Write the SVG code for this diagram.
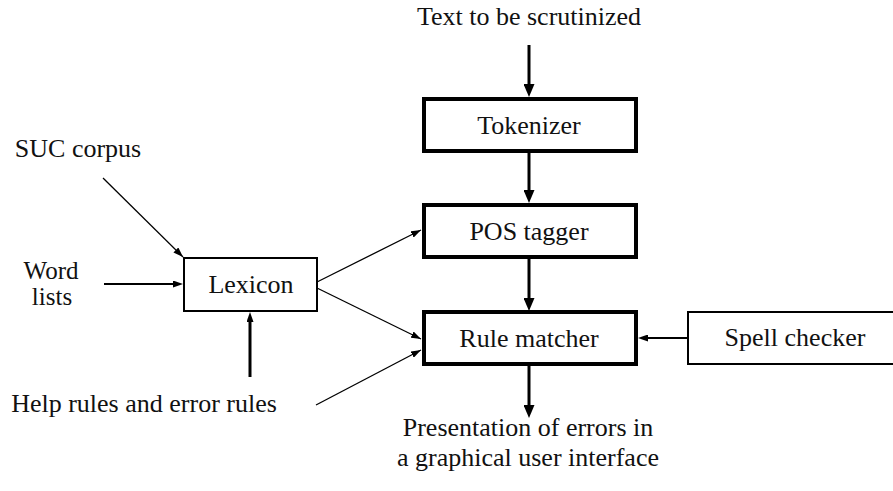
<svg xmlns="http://www.w3.org/2000/svg" width="893" height="491" viewBox="0 0 893 491" font-family="Liberation Serif, Times New Roman, serif">
<style>
text{font-size:26px;fill:#111;text-anchor:middle}
.sm{font-size:25px}
.thick{fill:#fff;stroke:#000;stroke-width:4}
.thin{fill:#fff;stroke:#000;stroke-width:2}
.c3{stroke:#000;stroke-width:3;fill:none}
.c2{stroke:#000;stroke-width:2;fill:none}
.c1{stroke:#000;stroke-width:1.3;fill:none}
</style>
<defs>
<marker id="big" markerUnits="userSpaceOnUse" markerWidth="13" markerHeight="11" refX="2" refY="5.5" orient="auto"><path d="M0,0 L13,5.5 L0,11 z" fill="#000"/></marker>
<marker id="small" markerUnits="userSpaceOnUse" markerWidth="10" markerHeight="7" refX="2" refY="3.5" orient="auto"><path d="M0,0 L10,3.5 L0,7 z" fill="#000"/></marker>
<marker id="tiny" markerUnits="userSpaceOnUse" markerWidth="10" markerHeight="7" refX="10" refY="3.5" orient="auto"><path d="M0,0 L10,3.5 L0,7 z" fill="#000"/></marker>
</defs>
<g id="labels">
<text x="529" y="25">Text to be scrutinized</text>
<text x="78" y="157">SUC corpus</text>
<text class="sm" x="51" y="279">Word</text>
<text class="sm" x="52" y="305">lists</text>
<text x="144" y="412">Help rules and error rules</text>
<text x="528" y="436">Presentation of errors in</text>
<text x="528" y="466">a graphical user interface</text>
</g>
<g id="tokenizer"><rect class="thick" x="424" y="99" width="212" height="52"/><text x="529" y="134">Tokenizer</text></g>
<g id="pos-tagger"><rect class="thick" x="424" y="205" width="212" height="52"/><text x="529" y="240">POS tagger</text></g>
<g id="rule-matcher"><rect class="thick" x="424" y="312" width="212" height="52"/><text x="529" y="347">Rule matcher</text></g>
<g id="lexicon"><rect class="thin" x="184" y="258" width="133" height="53"/><text x="251" y="293">Lexicon</text></g>
<g id="spell-checker"><rect class="thin" x="688" y="312" width="220" height="52"/><text x="795" y="346">Spell checker</text></g>
<g id="connectors">
<line class="c3" x1="529" y1="45" x2="529" y2="86" marker-end="url(#big)"/>
<line class="c3" x1="529" y1="153" x2="529" y2="192" marker-end="url(#big)"/>
<line class="c3" x1="529" y1="259" x2="529" y2="300" marker-end="url(#big)"/>
<line class="c3" x1="529" y1="366" x2="529" y2="407" marker-end="url(#big)"/>
<line class="c2" x1="687" y1="338" x2="646" y2="338" marker-end="url(#small)"/>
<line class="c2" x1="104" y1="284" x2="175" y2="284" marker-end="url(#small)"/>
<line class="c3" x1="250" y1="377" x2="250" y2="320" marker-end="url(#small)"/>
<line class="c1" x1="103" y1="178" x2="183" y2="257" marker-end="url(#tiny)"/>
<line class="c1" x1="317" y1="282" x2="421" y2="230" marker-end="url(#tiny)"/>
<line class="c1" x1="317" y1="288" x2="421" y2="339" marker-end="url(#tiny)"/>
<line class="c1" x1="316" y1="405" x2="421" y2="350" marker-end="url(#tiny)"/>
</g>
</svg>
